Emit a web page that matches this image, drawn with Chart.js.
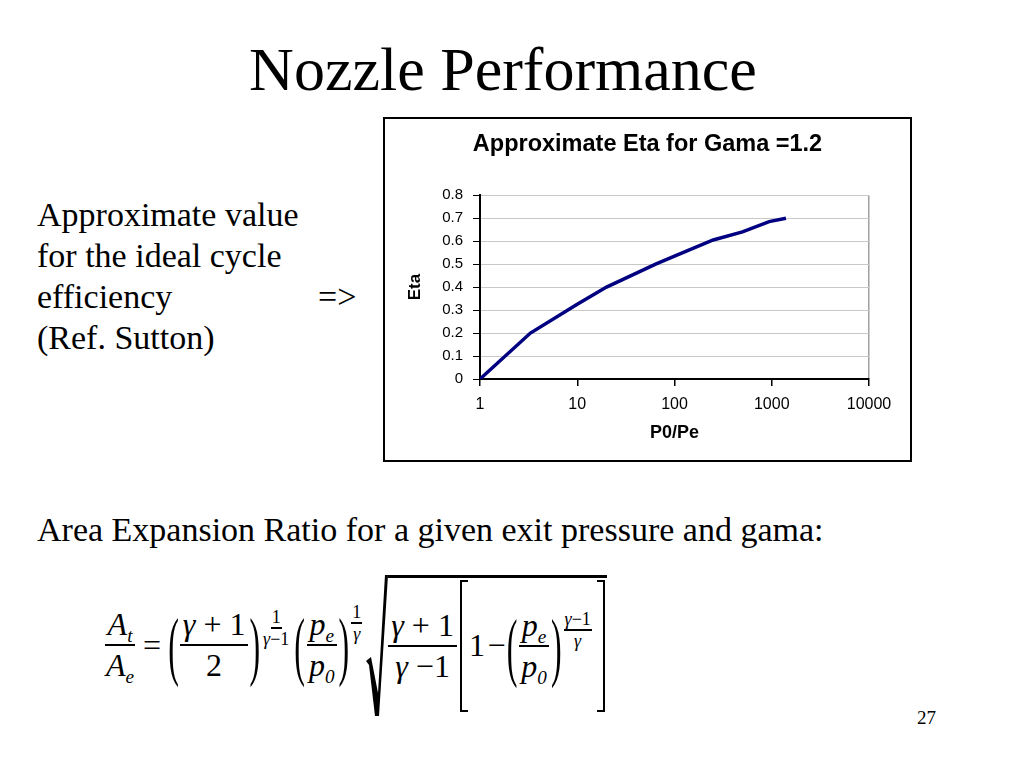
<!DOCTYPE html>
<html>
<head>
<meta charset="utf-8">
<script src="https://cdn.jsdelivr.net/npm/chart.js@4.4.1/dist/chart.umd.min.js"></script>
<style>
  html, body { margin:0; padding:0; background:#fff; }
  body { width:1024px; height:768px; position:relative; overflow:hidden; font-family:'Liberation Serif','Times New Roman',serif; color:#000; }
  #title { position:absolute; left:0; width:1006px; top:31px; line-height:76px; height:76px; text-align:center; font-size:62px; }
  #lefttext { position:absolute; left:37px; top:194px; font-size:34px; line-height:41px; }
  #arrow { position:absolute; left:318px; top:276px; font-size:34px; line-height:41px; }
  #area { position:absolute; left:37px; top:509px; font-size:34px; line-height:41px; white-space:nowrap; }
  #pagenum { position:absolute; left:917px; top:707px; font-size:19px; line-height:22px; }
  #chartbox { position:absolute; left:383px; top:117px; width:529px; height:345px; border:2px solid #000; box-sizing:border-box; background:#fff; }
  #chartwrap { position:absolute; left:0; top:0; width:525px; height:341px; }
  #formula { position:absolute; left:103px; top:575px; height:140px; display:flex; align-items:center; font-size:32px; font-family:'Liberation Serif',serif; white-space:nowrap; }
  .frac { display:inline-flex; flex-direction:column; align-items:center; line-height:1.08; }
  .frac .num { border-bottom:2.5px solid #000; padding:0 3px 2px 3px; }
  .frac .den { padding:2px 3px 0 3px; }
  .frac.small { font-size:18px; line-height:1.0; }
  .frac.small .num { border-bottom-width:2px; padding:0 1px 1px 1px; }
  .frac.small .den { padding:1px 1px 0 1px; }
  i { font-style:italic; }
  sub { font-size:0.6em; font-style:italic; vertical-align:-0.35em; line-height:0; }
  .op { margin:0 6px 0 6px; }
  .paren { display:inline-block; transform:scale(1,2.4); line-height:1; margin:0 1px; }
  .exp { align-self:flex-start; margin-top:19px; margin-left:1px; margin-right:3px; }
  .radsvg { display:block; width:22px; height:141px; margin-left:1px; }
  .radbody { height:136px; border-top:3px solid #000; display:flex; align-items:center; margin-top:-2px; padding-right:2px; }
  .brk { display:inline-block; width:8px; height:132px; border:2.5px solid #000; box-sizing:border-box; }
  .brk.l { border-right:none; margin:0 1px 0 3px; }
  .brk.r { border-left:none; margin:0 0 0 2px; }
</style>
</head>
<body>
<div id="title">Nozzle Performance</div>
<div id="lefttext">Approximate value<br>for the ideal cycle<br>efficiency<br>(Ref. Sutton)</div>
<div id="arrow">=&gt;</div>
<div id="chartbox"><div id="chartwrap"><canvas id="c"></canvas></div></div>
<div id="area">Area Expansion Ratio for a given exit pressure and gama:</div>

<div id="formula">
  <span class="frac"><span class="num"><i>A</i><sub>t</sub></span><span class="den"><i>A</i><sub>e</sub></span></span>
  <span class="op">=</span>
  <span class="paren">(</span>
  <span class="frac"><span class="num"><i>γ</i> + 1</span><span class="den">2</span></span>
  <span class="paren">)</span>
  <span class="exp"><span class="frac small"><span class="num">1</span><span class="den"><i>γ</i>−1</span></span></span>
  <span class="paren">(</span>
  <span class="frac"><span class="num"><i>p</i><sub>e</sub></span><span class="den"><i>p</i><sub>0</sub></span></span>
  <span class="paren">)</span>
  <span class="exp" style="margin-top:14px"><span class="frac small"><span class="num">1</span><span class="den"><i>γ</i></span></span></span>
  <svg class="radsvg" viewBox="0 0 22 141"><polygon points="0,86 5,82 12,118 19,0 22,0 13,141 9,141 3,90" fill="#000"/></svg>
  <span class="radbody">
    <span class="frac"><span class="num"><i>γ</i> + 1</span><span class="den"><i>γ</i> −1</span></span>
    <span class="brk l"></span>
    <span>1&#8202;−</span>
    <span class="paren">(</span>
    <span class="frac"><span class="num"><i>p</i><sub>e</sub></span><span class="den"><i>p</i><sub>0</sub></span></span>
    <span class="paren">)</span>
    <span class="exp" style="margin-top:18px"><span class="frac small"><span class="num"><i>γ</i>−1</span><span class="den"><i>γ</i></span></span></span>
    <span class="brk r"></span>
  </span>
</div>

<div id="pagenum">27</div>

<script>
const pressureRatio = [1, 3.3, 10, 20, 64, 100, 250, 500, 940, 1400];
const etaValues     = [0, 0.2, 0.325, 0.4, 0.5, 0.535, 0.605, 0.64, 0.685, 0.70];
const xTickValues   = [1, 10, 100, 1000, 10000];
const yTickValues   = [0, 0.1, 0.2, 0.3, 0.4, 0.5, 0.6, 0.7, 0.8];
const chartTitle    = 'Approximate Eta for Gama =1.2';
const xAxisTitle    = 'P0/Pe';
const yAxisTitle    = 'Eta';

Chart.defaults.font.family = "'Liberation Sans', Arial, sans-serif";
Chart.defaults.color = '#000';

new Chart(document.getElementById('c'), {
  type: 'line',
  data: {
    datasets: [{
      data: pressureRatio.map((x, i) => ({ x: x, y: etaValues[i] })),
      borderColor: '#000080',
      borderWidth: 3.5,
      pointRadius: 0,
      fill: false,
      tension: 0
    }]
  },
  options: {
    responsive: true,
    maintainAspectRatio: false,
    animation: false,
    layout: { padding: { left: 16, right: 16, top: 0, bottom: 0 } },
    plugins: {
      legend: { display: false },
      tooltip: { enabled: false },
      title: {
        display: true,
        text: chartTitle,
        color: '#000',
        font: { size: 23.5, weight: 'bold' },
        padding: { top: 11, bottom: 37 }
      }
    },
    scales: {
      x: {
        type: 'logarithmic',
        min: 1,
        max: 10000,
        afterBuildTicks: s => { s.ticks = xTickValues.map(v => ({ value: v })); },
        afterFit: s => { s.height = 81; },
        ticks: {
          callback: v => String(v),
          font: { size: 16 },
          color: '#000',
          padding: 9,
          maxRotation: 0,
          autoSkip: false
        },
        grid: {
          drawOnChartArea: true,
          color: c => (c.tick && c.tick.value === 10000) ? '#a0a0a0' : 'rgba(0,0,0,0)',
          tickColor: '#000',
          tickLength: 7,
          lineWidth: 1.5
        },
        border: { color: '#000', width: 2 },
        title: {
          display: true,
          text: xAxisTitle,
          color: '#000',
          font: { size: 18, weight: 'bold' },
          padding: { top: 4, bottom: 16 }
        }
      },
      y: {
        min: 0,
        max: 0.8,
        afterBuildTicks: s => { s.ticks = yTickValues.map(v => ({ value: v })); },
        afterFit: s => { s.width = 79; },
        ticks: {
          callback: v => v === 0 ? '0' : Number(v).toFixed(1),
          font: { size: 15 },
          color: '#000',
          padding: 10
        },
        grid: {
          color: '#c8c8c8',
          tickColor: '#000',
          tickLength: 7,
          lineWidth: 1
        },
        border: { color: '#000', width: 2 },
        title: {
          display: true,
          text: yAxisTitle,
          color: '#000',
          font: { size: 17, weight: 'bold' }
        }
      },
      yRightSpace: {
        position: 'right',
        display: true,
        min: 0,
        max: 0.8,
        afterFit: s => { s.width = 25; },
        ticks: { display: false },
        grid: { display: false, drawTicks: false },
        border: { display: false },
        title: { display: false }
      }
    }
  }
});
</script>
</body>
</html>
